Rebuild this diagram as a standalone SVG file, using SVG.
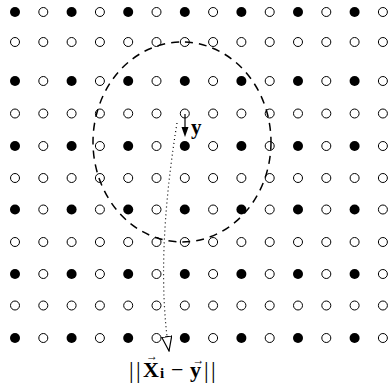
<svg xmlns="http://www.w3.org/2000/svg" width="390" height="390" viewBox="0 0 390 390">
<defs>
<style>
.f{fill:#000}
.o{fill:#fff;stroke:#000;stroke-width:1}
.t{font-family:"Liberation Serif","Times New Roman",serif;fill:#000}
</style>
<marker id="tri" markerUnits="userSpaceOnUse" markerWidth="16" markerHeight="12" refX="15" refY="5.5" orient="auto">
<path d="M0.5,0.5 L15,5.5 L0.5,10.5 Z" fill="#fff" stroke="#000" stroke-width="1.2"/>
</marker>
</defs>
<rect width="390" height="390" fill="#fff"/>
<g id="grid">
<g id="row0">
<circle class="f" cx="15" cy="12" r="5"/><circle class="o" cx="43.3" cy="12" r="4.5"/><circle class="f" cx="71.6" cy="12" r="5"/><circle class="o" cx="99.9" cy="12" r="4.5"/><circle class="f" cx="128.2" cy="12" r="5"/><circle class="o" cx="156.5" cy="12" r="4.5"/><circle class="f" cx="184.8" cy="12" r="5"/><circle class="o" cx="213.1" cy="12" r="4.5"/><circle class="f" cx="241.4" cy="12" r="5"/><circle class="o" cx="269.7" cy="12" r="4.5"/><circle class="f" cx="298" cy="12" r="5"/><circle class="o" cx="326.3" cy="12" r="4.5"/><circle class="f" cx="354.6" cy="12" r="5"/><circle class="o" cx="382.9" cy="12" r="4.5"/>
</g>
<g id="row1">
<circle class="o" cx="15" cy="42" r="4.5"/><circle class="o" cx="43.3" cy="42" r="4.5"/><circle class="o" cx="71.6" cy="42" r="4.5"/><circle class="o" cx="99.9" cy="42" r="4.5"/><circle class="o" cx="128.2" cy="42" r="4.5"/><circle class="o" cx="156.5" cy="42" r="4.5"/><circle class="o" cx="184.8" cy="42" r="4.5"/><circle class="o" cx="213.1" cy="42" r="4.5"/><circle class="o" cx="241.4" cy="42" r="4.5"/><circle class="o" cx="269.7" cy="42" r="4.5"/><circle class="o" cx="298" cy="42" r="4.5"/><circle class="o" cx="326.3" cy="42" r="4.5"/><circle class="o" cx="354.6" cy="42" r="4.5"/><circle class="o" cx="382.9" cy="42" r="4.5"/>
</g>
<g id="row2">
<circle class="f" cx="15" cy="81" r="5"/><circle class="o" cx="43.3" cy="81" r="4.5"/><circle class="f" cx="71.6" cy="81" r="5"/><circle class="o" cx="99.9" cy="81" r="4.5"/><circle class="f" cx="128.2" cy="81" r="5"/><circle class="o" cx="156.5" cy="81" r="4.5"/><circle class="f" cx="184.8" cy="81" r="5"/><circle class="o" cx="213.1" cy="81" r="4.5"/><circle class="f" cx="241.4" cy="81" r="5"/><circle class="o" cx="269.7" cy="81" r="4.5"/><circle class="f" cx="298" cy="81" r="5"/><circle class="o" cx="326.3" cy="81" r="4.5"/><circle class="f" cx="354.6" cy="81" r="5"/><circle class="o" cx="382.9" cy="81" r="4.5"/>
</g>
<g id="row3">
<circle class="o" cx="15" cy="113.5" r="4.5"/><circle class="o" cx="43.3" cy="113.5" r="4.5"/><circle class="o" cx="71.6" cy="113.5" r="4.5"/><circle class="o" cx="99.9" cy="113.5" r="4.5"/><circle class="o" cx="128.2" cy="113.5" r="4.5"/><circle class="o" cx="156.5" cy="113.5" r="4.5"/><circle class="o" cx="184.8" cy="113.5" r="4.5"/><circle class="o" cx="213.1" cy="113.5" r="4.5"/><circle class="o" cx="241.4" cy="113.5" r="4.5"/><circle class="o" cx="269.7" cy="113.5" r="4.5"/><circle class="o" cx="298" cy="113.5" r="4.5"/><circle class="o" cx="326.3" cy="113.5" r="4.5"/><circle class="o" cx="354.6" cy="113.5" r="4.5"/><circle class="o" cx="382.9" cy="113.5" r="4.5"/>
</g>
<g id="row4">
<circle class="f" cx="15" cy="146" r="5"/><circle class="o" cx="43.3" cy="146" r="4.5"/><circle class="f" cx="71.6" cy="146" r="5"/><circle class="o" cx="99.9" cy="146" r="4.5"/><circle class="f" cx="128.2" cy="146" r="5"/><circle class="o" cx="156.5" cy="146" r="4.5"/><circle class="f" cx="184.8" cy="146" r="5"/><circle class="o" cx="213.1" cy="146" r="4.5"/><circle class="f" cx="241.4" cy="146" r="5"/><circle class="o" cx="269.7" cy="146" r="4.5"/><circle class="f" cx="298" cy="146" r="5"/><circle class="o" cx="326.3" cy="146" r="4.5"/><circle class="f" cx="354.6" cy="146" r="5"/><circle class="o" cx="382.9" cy="146" r="4.5"/>
</g>
<g id="row5">
<circle class="o" cx="15" cy="178" r="4.5"/><circle class="o" cx="43.3" cy="178" r="4.5"/><circle class="o" cx="71.6" cy="178" r="4.5"/><circle class="o" cx="99.9" cy="178" r="4.5"/><circle class="o" cx="128.2" cy="178" r="4.5"/><circle class="o" cx="156.5" cy="178" r="4.5"/><circle class="o" cx="184.8" cy="178" r="4.5"/><circle class="o" cx="213.1" cy="178" r="4.5"/><circle class="o" cx="241.4" cy="178" r="4.5"/><circle class="o" cx="269.7" cy="178" r="4.5"/><circle class="o" cx="298" cy="178" r="4.5"/><circle class="o" cx="326.3" cy="178" r="4.5"/><circle class="o" cx="354.6" cy="178" r="4.5"/><circle class="o" cx="382.9" cy="178" r="4.5"/>
</g>
<g id="row6">
<circle class="f" cx="15" cy="209.5" r="5"/><circle class="o" cx="43.3" cy="209.5" r="4.5"/><circle class="f" cx="71.6" cy="209.5" r="5"/><circle class="o" cx="99.9" cy="209.5" r="4.5"/><circle class="f" cx="128.2" cy="209.5" r="5"/><circle class="o" cx="156.5" cy="209.5" r="4.5"/><circle class="f" cx="184.8" cy="209.5" r="5"/><circle class="o" cx="213.1" cy="209.5" r="4.5"/><circle class="f" cx="241.4" cy="209.5" r="5"/><circle class="o" cx="269.7" cy="209.5" r="4.5"/><circle class="f" cx="298" cy="209.5" r="5"/><circle class="o" cx="326.3" cy="209.5" r="4.5"/><circle class="f" cx="354.6" cy="209.5" r="5"/><circle class="o" cx="382.9" cy="209.5" r="4.5"/>
</g>
<g id="row7">
<circle class="o" cx="15" cy="242" r="4.5"/><circle class="o" cx="43.3" cy="242" r="4.5"/><circle class="o" cx="71.6" cy="242" r="4.5"/><circle class="o" cx="99.9" cy="242" r="4.5"/><circle class="o" cx="128.2" cy="242" r="4.5"/><circle class="o" cx="156.5" cy="242" r="4.5"/><circle class="o" cx="184.8" cy="242" r="4.5"/><circle class="o" cx="213.1" cy="242" r="4.5"/><circle class="o" cx="241.4" cy="242" r="4.5"/><circle class="o" cx="269.7" cy="242" r="4.5"/><circle class="o" cx="298" cy="242" r="4.5"/><circle class="o" cx="326.3" cy="242" r="4.5"/><circle class="o" cx="354.6" cy="242" r="4.5"/><circle class="o" cx="382.9" cy="242" r="4.5"/>
</g>
<g id="row8">
<circle class="f" cx="15" cy="274" r="5"/><circle class="o" cx="43.3" cy="274" r="4.5"/><circle class="f" cx="71.6" cy="274" r="5"/><circle class="o" cx="99.9" cy="274" r="4.5"/><circle class="f" cx="128.2" cy="274" r="5"/><circle class="o" cx="156.5" cy="274" r="4.5"/><circle class="f" cx="184.8" cy="274" r="5"/><circle class="o" cx="213.1" cy="274" r="4.5"/><circle class="f" cx="241.4" cy="274" r="5"/><circle class="o" cx="269.7" cy="274" r="4.5"/><circle class="f" cx="298" cy="274" r="5"/><circle class="o" cx="326.3" cy="274" r="4.5"/><circle class="f" cx="354.6" cy="274" r="5"/><circle class="o" cx="382.9" cy="274" r="4.5"/>
</g>
<g id="row9">
<circle class="o" cx="15" cy="305.5" r="4.5"/><circle class="o" cx="43.3" cy="305.5" r="4.5"/><circle class="o" cx="71.6" cy="305.5" r="4.5"/><circle class="o" cx="99.9" cy="305.5" r="4.5"/><circle class="o" cx="128.2" cy="305.5" r="4.5"/><circle class="o" cx="156.5" cy="305.5" r="4.5"/><circle class="o" cx="184.8" cy="305.5" r="4.5"/><circle class="o" cx="213.1" cy="305.5" r="4.5"/><circle class="o" cx="241.4" cy="305.5" r="4.5"/><circle class="o" cx="269.7" cy="305.5" r="4.5"/><circle class="o" cx="298" cy="305.5" r="4.5"/><circle class="o" cx="326.3" cy="305.5" r="4.5"/><circle class="o" cx="354.6" cy="305.5" r="4.5"/><circle class="o" cx="382.9" cy="305.5" r="4.5"/>
</g>
<g id="row10">
<circle class="f" cx="15" cy="338" r="5"/><circle class="o" cx="43.3" cy="338" r="4.5"/><circle class="f" cx="71.6" cy="338" r="5"/><circle class="o" cx="99.9" cy="338" r="4.5"/><circle class="f" cx="128.2" cy="338" r="5"/><circle class="o" cx="156.5" cy="338" r="4.5"/><circle class="f" cx="184.8" cy="338" r="5"/><circle class="o" cx="213.1" cy="338" r="4.5"/><circle class="f" cx="241.4" cy="338" r="5"/><circle class="o" cx="269.7" cy="338" r="4.5"/><circle class="f" cx="298" cy="338" r="5"/><circle class="o" cx="326.3" cy="338" r="4.5"/><circle class="f" cx="354.6" cy="338" r="5"/><circle class="o" cx="382.9" cy="338" r="4.5"/>
</g>
</g>
<g id="connectors" fill="none" stroke="#000">
<ellipse id="neighbourhood" cx="182" cy="142" rx="89" ry="100" stroke-width="1.5" stroke-dasharray="8 6"/>
<path id="distance" d="M177,123 Q155,260 169,351" stroke-width="1.2" stroke-dasharray="1 3" marker-end="url(#tri)"/>
<g id="y-arrow">
<line x1="185" y1="114" x2="185" y2="128" stroke-width="1.2"/>
<polygon points="181.5,127 188.5,127 185,137" fill="#000" stroke="none"/>
</g>
</g>
<g id="label-y">
<text class="t" x="191" y="134" font-size="21" font-weight="bold">y</text>
</g>
<g id="label-dist">
<text class="t" x="129" y="378" font-size="23">|</text>
<text class="t" x="136" y="378" font-size="23">|</text>
<text class="t" x="143" y="377" font-size="22" font-weight="bold">X</text>
<text class="t" x="146" y="360" font-size="12">→</text>
<text class="t" x="160" y="378" font-size="15" font-weight="bold">i</text>
<text class="t" x="171" y="377" font-size="22">−</text>
<text class="t" x="190" y="377" font-size="22" font-weight="bold">y</text>
<text class="t" x="192.5" y="364" font-size="12">→</text>
<text class="t" x="204" y="378" font-size="23">|</text>
<text class="t" x="211" y="378" font-size="23">|</text>
</g>
</svg>
